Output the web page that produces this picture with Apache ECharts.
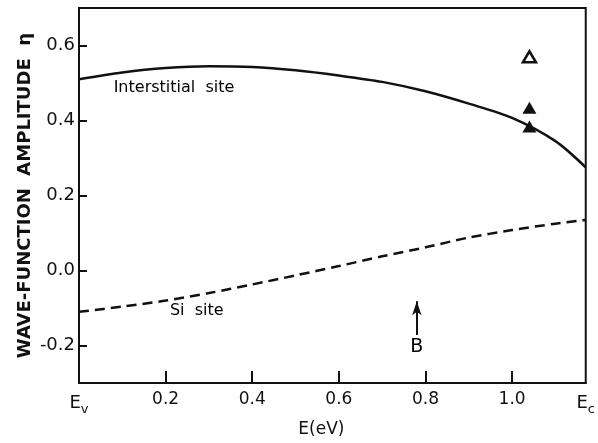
<!DOCTYPE html>
<html>
<head>
<meta charset="utf-8">
<script src="https://cdn.jsdelivr.net/npm/echarts@6/dist/echarts.min.js"></script>
<style>
  html, body { margin: 0; padding: 0; background: #fff; }
  #chart { width: 598px; height: 443px; }
</style>
</head>
<body>
<div id="chart"></div>
<script>
// energy grid (eV), Ev = 0, Ec = 1.17
const energy = [0, 0.1, 0.2, 0.3, 0.4, 0.5, 0.6, 0.7, 0.8, 0.9, 1.0, 1.1, 1.17];
const interstitial = [0.51, 0.528, 0.540, 0.545, 0.543, 0.534, 0.52, 0.503, 0.478, 0.445, 0.407, 0.345, 0.275];
const siSite = [-0.11, -0.096, -0.08, -0.06, -0.037, -0.013, 0.012, 0.038, 0.062, 0.088, 0.108, 0.125, 0.135];

// measured points at E = 1.04 eV
const openPoints = [[1.04, 0.57]];
const filledPoints = [[1.04, 0.434], [1.04, 0.384]];

const xTicks = [0, 0.2, 0.4, 0.6, 0.8, 1.0, 1.17];
const xInnerTicks = [0.2, 0.4, 0.6, 0.8, 1.0];
const yTicks = [-0.2, 0.0, 0.2, 0.4, 0.6];

// curve labels and the "B" arrow
const annotations = [
    { name: 'Interstitial  site', value: [0.08, 0.487], align: 'left', size: 16 },
    { name: 'Si  site', value: [0.21, -0.107], align: 'left', size: 16 },
    { name: 'B', value: [0.78, -0.205], align: 'center', size: 19 }
];
const arrowB = [[0.78, -0.172], [0.78, -0.082]];

const font = 'DejaVu Sans';
const ink = '#111';

function pairs(xs, ys) {
    return xs.map((x, i) => [x, ys[i]]);
}

const chart = echarts.init(document.getElementById('chart'));

const option = {
    animation: false,
    backgroundColor: '#fff',
    grid: {
        left: 79, right: 11, top: 8, bottom: 53,
        show: true,
        borderColor: ink,
        borderWidth: 2,
        backgroundColor: 'transparent'
    },
    xAxis: {
        type: 'value',
        min: 0,
        max: 1.17,
        name: 'E(eV)',
        nameLocation: 'middle',
        nameGap: 34,
        nameTextStyle: { fontFamily: font, fontSize: 17, color: ink, padding: [0, 22, 0, 0] },
        axisLine: { show: true, onZero: false, lineStyle: { color: ink, width: 2 } },
        axisTick: {
            show: true, inside: true, length: 12,
            lineStyle: { color: ink, width: 2 },
            customValues: xInnerTicks
        },
        axisLabel: {
            customValues: xTicks,
            margin: 8,
            fontFamily: font,
            fontSize: 17,
            color: ink,
            formatter: function (v) {
                if (v === 0) return '{m|E}{s|v}';
                if (v === 1.17) return '{m|E}{s|c}';
                return v.toFixed(1);
            },
            rich: {
                m: { fontFamily: font, fontSize: 18, color: ink },
                s: { fontFamily: font, fontSize: 13, color: ink, verticalAlign: 'bottom', padding: [12, 0, 0, 0] }
            }
        },
        splitLine: { show: false }
    },
    yAxis: {
        type: 'value',
        min: -0.3,
        max: 0.7,
        name: 'WAVE-FUNCTION  AMPLITUDE  \u03b7',
        nameLocation: 'middle',
        nameGap: 45,
        nameMoveOverlap: false,
        nameTextStyle: { fontFamily: font, fontSize: 18, fontWeight: 'bold', color: ink },
        axisLine: { show: true, onZero: false, lineStyle: { color: ink, width: 2 } },
        axisTick: {
            show: true, inside: true, length: 8,
            lineStyle: { color: ink, width: 2 },
            customValues: yTicks
        },
        axisLabel: {
            customValues: yTicks,
            margin: 4,
            fontFamily: font,
            fontSize: 18,
            color: ink,
            formatter: v => v.toFixed(1)
        },
        splitLine: { show: false }
    },
    series: [
        {
            name: 'Interstitial site',
            type: 'line',
            data: pairs(energy, interstitial),
            smooth: 0.3,
            showSymbol: false,
            lineStyle: { color: ink, width: 2.5 }
        },
        {
            name: 'Si site',
            type: 'line',
            data: pairs(energy, siSite),
            smooth: 0.3,
            showSymbol: false,
            lineStyle: { color: ink, width: 2.5, type: [10, 6] },
            markLine: {
                silent: true,
                symbol: ['none', 'arrow'],
                symbolSize: [7, 14],
                label: { show: false },
                lineStyle: { color: ink, width: 2, type: 'solid' },
                data: [[{ coord: arrowB[0] }, { coord: arrowB[1] }]]
            }
        },
        {
            name: 'open',
            type: 'scatter',
            data: openPoints,
            symbol: 'triangle',
            symbolSize: [13, 11],
            itemStyle: { color: '#fff', borderColor: ink, borderWidth: 2.5, opacity: 1 }
        },
        {
            name: 'filled',
            type: 'scatter',
            data: filledPoints,
            symbol: 'triangle',
            symbolSize: [14, 12],
            itemStyle: { color: ink, opacity: 1 }
        },
        {
            name: 'labels',
            type: 'scatter',
            silent: true,
            symbolSize: 1,
            itemStyle: { color: 'rgba(0,0,0,0)', opacity: 1 },
            data: annotations.map(a => ({
                name: a.name,
                value: a.value,
                label: { align: a.align, fontSize: a.size }
            })),
            label: {
                show: true,
                position: 'inside',
                formatter: '{b}',
                fontFamily: font,
                color: '#000',
                opacity: 1
            }
        }
    ]
};

chart.setOption(option);
</script>
</body>
</html>
